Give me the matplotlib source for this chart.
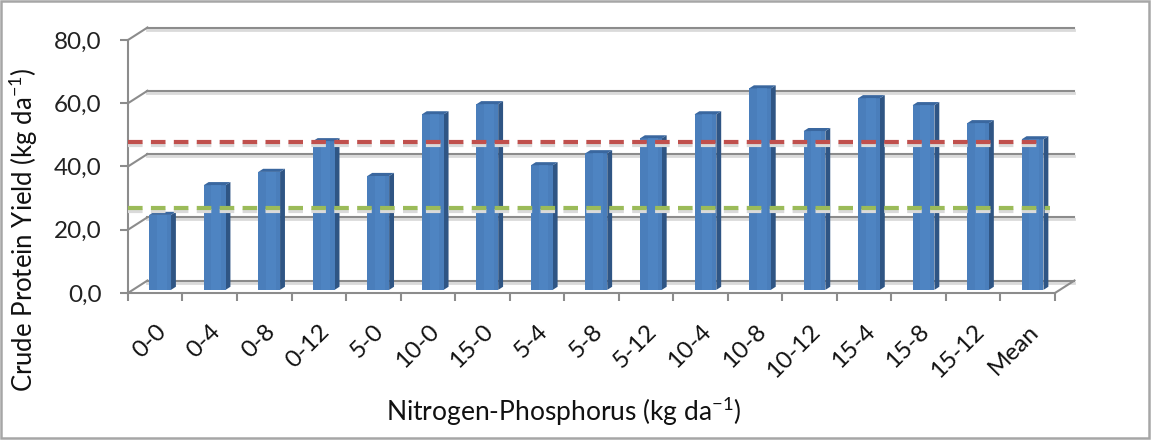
import matplotlib

matplotlib.use("Agg")
import matplotlib.pyplot as plt
from matplotlib.patches import Polygon, Rectangle

# --- data ---
categories = [
    "0-0", "0-4", "0-8", "0-12", "5-0", "10-0", "15-0", "5-4", "5-8",
    "5-12", "10-4", "10-8", "10-12", "15-4", "15-8", "15-12", "Mean",
]
protein_yield = [
    23.7, 33.1, 37.3, 47.0, 36.0, 55.5, 58.7, 39.4, 43.2,
    47.9, 55.5, 63.7, 50.2, 60.6, 58.4, 52.7, 47.6,
]
y_ticks = [0, 20, 40, 60, 80]
red_level = 46.8
green_level = 25.9

# --- styling ---
FONT = "Lato"
BAR_FRONT = "#4A7EBB"
BAR_SIDE = "#2F5584"
BAR_TOP = "#3A679F"
GRID = "#8C8C8C"
SHADOW = "#DADADA"
RED = "#C0504D"
GREEN = "#9BBB59"

# depth of the 3-D box in data units (x: categories, y: values)
DX = 0.358
DY = 3.95
BAR_W = 0.40


def draw_walls(ax, n):
    x0, x1 = -0.5, n - 0.5
    for v in y_ticks:
        # shadow under each gridline
        ax.plot([x0 + DX, x1 + DX], [v + DY - 0.7, v + DY - 0.7],
                color=SHADOW, lw=2.0, clip_on=False, zorder=1)
        ax.plot([x0 + DX, x1 + DX], [v + DY, v + DY],
                color=GRID, lw=1.5, clip_on=False, zorder=2)
        ax.plot([x0, x0 + DX], [v, v + DY], color=GRID, lw=1.5,
                clip_on=False, zorder=2)
    # right edge of the floor
    ax.plot([x1, x1 + DX], [0, DY], color=GRID, lw=1.5, clip_on=False, zorder=2)


def draw_bars(ax, values):
    ddx, ddy = 0.25 * DX, 0.25 * DY
    base = ddy
    xs = [i + ddx for i in range(len(values))]
    ax.bar(xs, values, width=BAR_W, bottom=base, color=BAR_FRONT,
           edgecolor="none", zorder=4, clip_on=False)
    for xc, v in zip(xs, values):
        xl, xr = xc - BAR_W / 2, xc + BAR_W / 2
        top = base + v
        side = [(xr, base), (xr, top), (xr + ddx, top + ddy), (xr + ddx, base + ddy)]
        cap = [(xl, top), (xr, top), (xr + ddx, top + ddy), (xl + ddx, top + ddy)]
        ax.add_patch(Polygon(side, closed=True, facecolor=BAR_SIDE,
                             edgecolor="none", zorder=3, clip_on=False))
        ax.add_patch(Polygon(cap, closed=True, facecolor=BAR_TOP,
                             edgecolor="none", zorder=4, clip_on=False))
        # lighter strip on the front face
        ax.bar(xc + BAR_W * 0.08, v, width=BAR_W * 0.45, bottom=base,
               color="#5189C8", edgecolor="none", zorder=4.5, alpha=0.6)
    return base


def draw_level(ax, level, color, x_end, base):
    y = level + base
    ax.plot([-0.5, x_end], [y - 1.0, y - 1.0], color=SHADOW, lw=3,
            dashes=(3.5, 2), clip_on=False, zorder=5)
    ax.plot([-0.5, x_end], [y, y], color=color, lw=3, dashes=(3.5, 2),
            clip_on=False, zorder=6)


def main():
    plt.rcParams["font.family"] = [FONT, "DejaVu Sans"]
    plt.rcParams["mathtext.fontset"] = "custom"
    plt.rcParams["mathtext.rm"] = FONT
    plt.rcParams["mathtext.it"] = FONT

    fig = plt.figure(figsize=(11.56, 4.44), dpi=100)
    ax = fig.add_axes([0.1107, 0.3401, 0.8019, 0.5698])
    n = len(categories)

    draw_walls(ax, n)
    base = draw_bars(ax, protein_yield)
    draw_level(ax, red_level, RED, n - 0.78, base)
    draw_level(ax, green_level, GREEN, n - 0.6, base)

    ax.set_xlim(-0.5, n - 0.5)
    ax.set_ylim(0, 80)
    for s in ("top", "right"):
        ax.spines[s].set_visible(False)
    for s in ("left", "bottom"):
        ax.spines[s].set_color(GRID)
        ax.spines[s].set_linewidth(1.5)

    ax.set_yticks(y_ticks)
    ax.set_yticklabels([f"{v:.1f}".replace(".", ",") for v in y_ticks])
    ax.tick_params(axis="y", direction="out", length=6, width=1.5,
                   color=GRID, pad=13, labelsize=17.5, labelcolor="#222222")

    ax.set_xticks(range(n))
    ax.set_xticklabels(categories, rotation=45, ha="right",
                       rotation_mode="anchor")
    ax.set_xticks([i - 0.5 for i in range(n + 1)], minor=True)
    ax.tick_params(axis="x", which="major", length=0, pad=20, labelsize=17.5,
                   labelcolor="#111111")
    ax.tick_params(axis="x", which="minor", direction="out", length=6,
                   width=1.5, color=GRID)

    fig.text(0.02, 0.483, r"Crude Protein Yield (kg da$^{-1}$)", rotation=90,
             ha="center", va="center", fontsize=18.5, color="#111111")
    fig.text(0.488, 0.072, r"Nitrogen-Phosphorus (kg da$^{-1}$)",
             ha="center", va="center", fontsize=19, color="#111111")

    fig.patches.append(Rectangle((0.001, 0.0135), 0.993, 0.984,
                                 transform=fig.transFigure, fill=False,
                                 edgecolor="#A6A6A6", lw=1.8))

    fig.savefig("out.png", dpi=100)
    plt.close(fig)


if __name__ == "__main__":
    main()
